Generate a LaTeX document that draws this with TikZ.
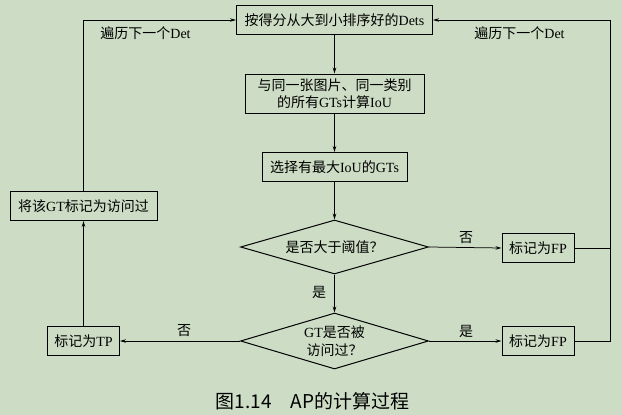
\documentclass[tikz,border=0pt]{standalone}
\usepackage{fontspec}
\setmainfont{Liberation Serif}
\newfontfamily\cjk{Noto Sans CJK SC}
\usetikzlibrary{shapes.geometric,arrows.meta}
\newcommand{\lat}[1]{{\rmfamily #1}}
\definecolor{bg}{HTML}{CDDDC5}
\tikzset{
  box/.style={draw, line width=1pt, inner sep=1pt, font=\cjk\fontsize{14}{17}\selectfont, align=center},
  dia/.style={draw, line width=1pt, diamond, aspect=3.5, inner sep=0pt, minimum width=188pt, font=\cjk\fontsize{14}{17.5}\selectfont, align=center},
  arr/.style={line width=0.75pt, -{Stealth[length=6pt,width=3.5pt]}},
  ln/.style={line width=0.6pt},
  lab/.style={font=\cjk\fontsize{14}{17}\selectfont, inner sep=0pt}
}
\begin{document}
\begin{tikzpicture}[x=1pt,y=-1pt]
\fill[bg] (0,0) rectangle (622,415);
\useasboundingbox (0,0) rectangle (622,415);
\node[box, minimum width=196pt, minimum height=29pt] (top) at (334.5,20) {按得分从大到小排序好的\lat{Dets}};
\node[box, minimum width=179pt, minimum height=39pt] (b2) at (334.5,93.5) {与同一张图片、同一类别\\的所有\lat{GTs}计算\lat{IoU}};
\node[box, minimum width=145pt, minimum height=29pt] (b3) at (334.5,167) {选择有最大\lat{IoU}的\lat{GTs}};
\node[box, minimum width=147pt, minimum height=29pt] (lb) at (83.5,206) {将该\lat{GT}标记为访问过};
\node[dia, minimum height=54pt] (d1) at (334.5,247) {是否大于阈值？};
\node[box, minimum width=72pt, minimum height=29pt] (fp1) at (538,248) {标记为\lat{FP}};
\node[dia, minimum height=56pt] (d2) at (334.5,341) {\lat{GT}是否被\\访问过？};
\node[box, minimum width=72pt, minimum height=29pt] (tp) at (83.5,341) {标记为\lat{TP}};
\node[box, minimum width=72pt, minimum height=29pt] (fp2) at (538,341) {标记为\lat{FP}};
\coordinate (rc) at (610,20);

\draw[arr] (top) -- (b2);
\draw[arr] (b2) -- (b3);
\draw[arr] (b3) -- (d1);
\draw[arr] (d1) -- (d2);
\draw[arr] (d1.east) -- (fp1.west);
\draw[arr] (d2.east) -- (fp2.west);
\draw[arr] (d2.west) -- (tp.east);
\draw[arr] (tp.north) -- (lb.south);
\draw[arr] (lb.north) |- (top.west);
\draw[arr] (fp2.east) -| (rc) -- (top.east);
\draw[ln] (fp1.east) -- (rc |- fp1.east);

\node[lab] (l1) at (319,292) {是};
\node[lab] (l2) at (466,238) {否};
\node[lab] (l3) at (466,331) {是};
\node[lab] (l4) at (184,331) {否};
\node[lab] (l5) at (145.5,33) {遍历下一个\lat{Det}};
\node[lab] (l6) at (519.5,33) {遍历下一个\lat{Det}};
\node[font=\cjk\fontsize{19}{21}\selectfont, inner sep=0pt] (cap) at (312.5,401) {图1.14\quad AP的计算过程};
\end{tikzpicture}
\end{document}
